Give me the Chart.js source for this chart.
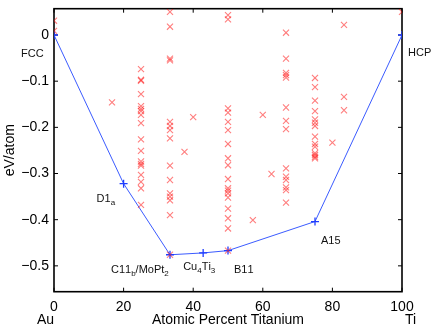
<!DOCTYPE html>
<html>
<head>
<meta charset="utf-8">
<script src="https://cdn.jsdelivr.net/npm/chart.js@4.4.1/dist/chart.umd.min.js"></script>
<style>
  html, body { margin: 0; padding: 0; background: #fff; }
  #wrap { width: 436px; height: 330px; }
</style>
</head>
<body>
<div id="wrap"><canvas id="hullChart" width="436" height="330"></canvas></div>
<script>
// Ground-state convex hull, Au-Ti
const hullX = [0, 20, 33.33, 42.86, 50, 75, 100];
const hullE = [0, -0.322, -0.476, -0.472, -0.467, -0.404, 0];
const hullNames = ['FCC', 'D1_a', 'C11_b/MoPt_2', 'Cu_4Ti_3', 'B11', 'A15', 'HCP'];

// Other calculated structures (percent Ti -> energies)
const structX = [0, 16.67, 25, 33.33, 37.5, 40, 50, 57.14, 60, 62.5, 66.67, 75, 80, 83.33, 100];
const structE = [
    [0.031, 0.009],
    [-0.146],
    [-0.074, -0.097, -0.099, -0.128, -0.154, -0.160, -0.165, -0.173, -0.191, -0.226, -0.251, -0.274, -0.279, -0.283, -0.303, -0.318, -0.332, -0.368],
    [0.050, 0.018, -0.051, -0.055, -0.188, -0.197, -0.206, -0.224, -0.283, -0.314, -0.343, -0.350, -0.358, -0.390, -0.476],
    [-0.253],
    [-0.178],
    [0.043, 0.034, -0.159, -0.168, -0.188, -0.206, -0.236, -0.267, -0.282, -0.312, -0.332, -0.337, -0.343, -0.352, -0.376, -0.397, -0.419, -0.467],
    [-0.401],
    [-0.173],
    [-0.301],
    [0.005, -0.051, -0.082, -0.087, -0.092, -0.157, -0.186, -0.204, -0.289, -0.307, -0.314, -0.330, -0.336, -0.363],
    [-0.093, -0.113, -0.142, -0.165, -0.183, -0.190, -0.197, -0.220, -0.236, -0.242, -0.256, -0.260, -0.264, -0.267],
    [-0.233],
    [0.022, -0.134, -0.163],
    [0.050]
];

const xTicks = [0, 20, 40, 60, 80, 100];
const yTicks = [0, -0.1, -0.2, -0.3, -0.4, -0.5];
const endLabels = ['Au', 'Ti'];

const FONT = "'Liberation Sans', Arial, sans-serif";

// where each hull label sits relative to its point (text left, text middle)
const labelOffsets = [[-33, 19], [-27, 15], [-59, 15], [-20, 14], [6, 19], [6, 19], [6, 18]];

function drawSubText(ctx, str, x, y) {
    // "_c" makes c a subscript
    let cx = x;
    for (let i = 0; i < str.length; i++) {
        if (str[i] === '_' && i + 1 < str.length) {
            ctx.font = '8px ' + FONT;
            ctx.fillText(str[i + 1], cx, y + 4);
            cx += ctx.measureText(str[i + 1]).width;
            i++;
        } else {
            ctx.font = '11px ' + FONT;
            ctx.fillText(str[i], cx, y);
            cx += ctx.measureText(str[i]).width;
        }
    }
}

const framePlugin = {
    id: 'framePlugin',
    beforeDatasetsDraw(chart) {
        const {ctx, chartArea: a, scales: {x, y}} = chart;
        ctx.save();
        ctx.strokeStyle = '#000';
        ctx.lineWidth = 1;
        ctx.beginPath();
        xTicks.forEach(v => {
            const px = x.getPixelForValue(v);
            ctx.moveTo(px, a.bottom); ctx.lineTo(px, a.bottom - 4);
            ctx.moveTo(px, a.top); ctx.lineTo(px, a.top + 4);
        });
        yTicks.forEach(v => {
            const py = y.getPixelForValue(v);
            ctx.moveTo(a.left, py); ctx.lineTo(a.left + 4, py);
            ctx.moveTo(a.right, py); ctx.lineTo(a.right - 4, py);
        });
        ctx.stroke();
        ctx.lineWidth = 1.6;
        ctx.strokeRect(a.left, a.top, a.right - a.left, a.bottom - a.top);
        ctx.restore();
    },
    afterDraw(chart) {
        const {ctx, scales: {x, y}} = chart;
        ctx.save();
        ctx.fillStyle = '#111';
        ctx.textBaseline = 'middle';
        ctx.textAlign = 'left';
        hullNames.forEach((name, i) => {
            const px = x.getPixelForValue(hullX[i]);
            const py = y.getPixelForValue(hullE[i]);
            drawSubText(ctx, name, px + labelOffsets[i][0], py + labelOffsets[i][1]);
        });
        // element names under the axis ends
        ctx.fillStyle = '#000';
        ctx.font = '14px ' + FONT;
        const ty = x.bottom - 10;
        ctx.textAlign = 'right';
        ctx.fillText(endLabels[0], x.getPixelForValue(0), ty);
        ctx.textAlign = 'left';
        ctx.fillText(endLabels[1], x.getPixelForValue(100) + 3, ty);
        ctx.restore();
    }
};

const hullPoints = hullX.map((v, i) => ({x: v, y: hullE[i]}));
const structPoints = [];
structX.forEach((v, i) => {
    structE[i].forEach(e => structPoints.push({x: v, y: e}));
});

new Chart(document.getElementById('hullChart'), {
    type: 'scatter',
    data: {
        datasets: [{
            label: 'Convex hull',
            data: hullPoints,
            showLine: true,
            borderColor: '#3b5bff',
            borderWidth: 1,
            pointStyle: 'cross',
            pointRadius: 4,
            pointBorderColor: '#1f3dff',
            pointBorderWidth: 1.3,
            order: 2
        }, {
            label: 'Structures',
            data: structPoints,
            showLine: false,
            pointStyle: 'crossRot',
            pointRadius: 4.3,
            pointBorderColor: 'rgba(255, 20, 20, 0.55)',
            pointBorderWidth: 1.1,
            order: 1
        }]
    },
    options: {
        responsive: false,
        animation: false,
        events: [],
        layout: { padding: { top: 8.7, right: 34, bottom: 0, left: 0 } },
        plugins: {
            legend: { display: false },
            tooltip: { enabled: false }
        },
        scales: {
            x: {
                type: 'linear',
                min: 0,
                max: 100,
                afterBuildTicks: s => { s.ticks = xTicks.map(v => ({value: v})); },
                afterFit: s => { s.height = 38.3; s.paddingLeft = 0; s.paddingRight = 0; },
                grid: { display: false, drawTicks: false },
                border: { display: false },
                ticks: { padding: 7, maxRotation: 0, color: '#000', font: { family: FONT, size: 14 } },
                title: {
                    display: true,
                    text: 'Atomic Percent Titanium',
                    color: '#000',
                    font: { family: FONT, size: 14 },
                    padding: { top: 0, bottom: 1.6 }
                }
            },
            y: {
                type: 'linear',
                min: -0.556,
                max: 0.057,
                afterBuildTicks: s => { s.ticks = yTicks.map(v => ({value: v})); },
                afterFit: s => { s.width = 54; s.paddingTop = 0; s.paddingBottom = 0; },
                grid: { display: false, drawTicks: false },
                border: { display: false },
                ticks: {
                    padding: 5,
                    color: '#000',
                    font: { family: FONT, size: 14 },
                    callback: v => v === 0 ? '0' : '\u2212' + Math.abs(v).toFixed(1)
                },
                title: {
                    display: true,
                    text: 'eV/atom',
                    color: '#000',
                    font: { family: FONT, size: 14 },
                    padding: { top: 2, bottom: 0 }
                }
            }
        }
    },
    plugins: [framePlugin]
});
</script>
</body>
</html>
